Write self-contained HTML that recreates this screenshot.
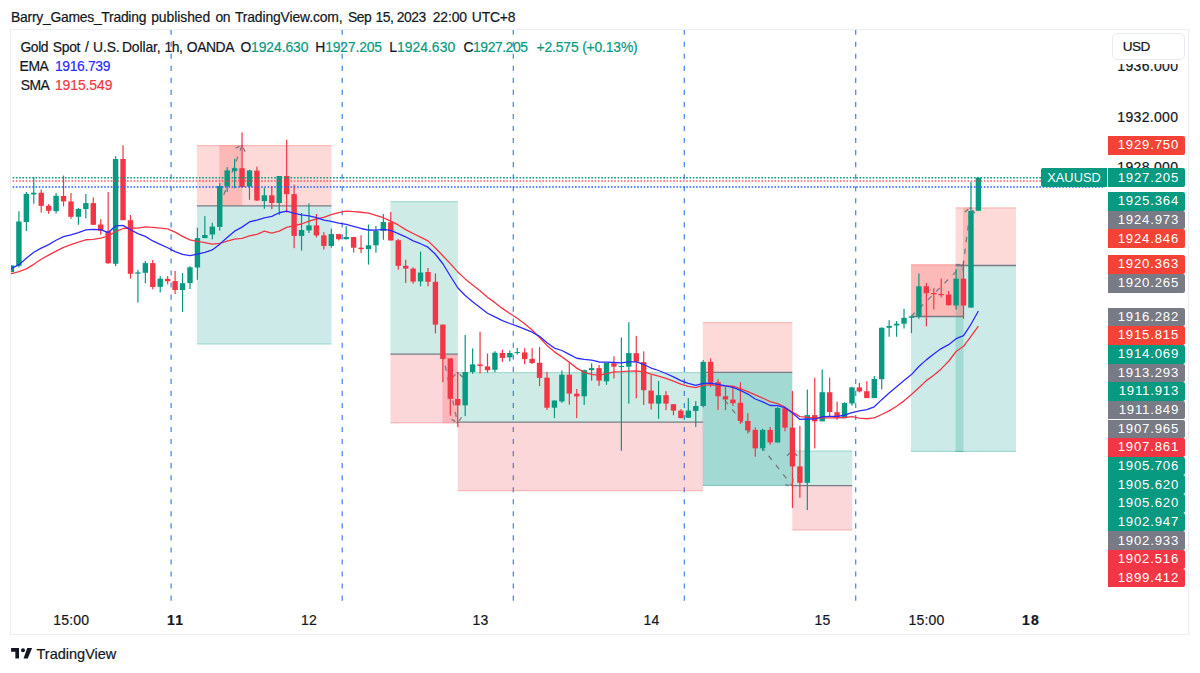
<!DOCTYPE html>
<html><head><meta charset="utf-8"><style>
*{margin:0;padding:0;box-sizing:border-box}
html,body{width:1200px;height:673px;overflow:hidden;background:#fff}
body{position:relative;font-family:"Liberation Sans",sans-serif;color:#131722;-webkit-text-stroke:0.2px currentColor}
.a{position:absolute;white-space:nowrap}
.frame{position:absolute;left:10px;top:29px;width:1179px;height:606px;border:1px solid #ECEEF3}
.lbl{-webkit-text-stroke:0;position:absolute;left:1107.9px;width:77.1px;height:18.65px;border-radius:0 2px 2px 0;color:#fff;font-size:13.2px;line-height:18.65px;padding-top:0.2px;text-align:right;padding-right:5.9px;letter-spacing:0.8px}
.ax{position:absolute;font-size:14px;line-height:14px;color:#131722;letter-spacing:0.33px}
.tm{position:absolute;top:613px;font-size:14px;line-height:14px;transform:translateX(-50%)}
</style></head><body>

<div class="a" style="left:11.05px;top:9.1px;font-size:13.9px;line-height:16px;letter-spacing:-0.258px;">Barry_Games_Trading</div>
<div class="a" style="left:151.20px;top:9.1px;font-size:13.9px;line-height:16px;letter-spacing:-0.050px;">published</div>
<div class="a" style="left:215.60px;top:9.1px;font-size:13.9px;line-height:16px;letter-spacing:-0.450px;">on</div>
<div class="a" style="left:234.90px;top:9.1px;font-size:13.9px;line-height:16px;letter-spacing:-0.127px;">TradingView.com,</div>
<div class="a" style="left:347.90px;top:9.1px;font-size:13.9px;line-height:16px;letter-spacing:-0.450px;">Sep</div>
<div class="a" style="left:375.55px;top:9.1px;font-size:13.9px;line-height:16px;letter-spacing:-0.450px;">15,</div>
<div class="a" style="left:396.70px;top:9.1px;font-size:13.9px;line-height:16px;letter-spacing:-0.414px;">2023</div>
<div class="a" style="left:432.65px;top:9.1px;font-size:13.9px;line-height:16px;letter-spacing:-0.100px;">22:00</div>
<div class="a" style="left:471.85px;top:9.1px;font-size:13.9px;line-height:16px;letter-spacing:-0.179px;">UTC+8</div>
<div class="frame"></div>
<svg class="a" style="left:0;top:0" width="1200" height="673" viewBox="0 0 1200 673"><defs><clipPath id="cp"><rect x="11" y="30" width="1094" height="571"/></clipPath></defs><g clip-path="url(#cp)"><line x1="171.1" y1="29.66" x2="171.1" y2="601" stroke="#4985E7" stroke-width="1.25" stroke-dasharray="5.1,6.94"/><line x1="342.2" y1="29.66" x2="342.2" y2="601" stroke="#4985E7" stroke-width="1.25" stroke-dasharray="5.1,6.94"/><line x1="513.3" y1="29.66" x2="513.3" y2="601" stroke="#4985E7" stroke-width="1.25" stroke-dasharray="5.1,6.94"/><line x1="684.3" y1="29.66" x2="684.3" y2="601" stroke="#4985E7" stroke-width="1.25" stroke-dasharray="5.1,6.94"/><line x1="855.7" y1="29.66" x2="855.7" y2="601" stroke="#4985E7" stroke-width="1.25" stroke-dasharray="5.1,6.94"/><rect x="196.9" y="145" width="134.6" height="60.9" fill="rgba(244,67,54,0.2)"/><rect x="196.9" y="205.9" width="134.6" height="138.6" fill="rgba(0,150,136,0.2)"/><rect x="390.4" y="201.1" width="67.5" height="153.1" fill="rgba(8,153,129,0.2)"/><rect x="390.4" y="354.2" width="67.5" height="69.1" fill="rgba(242,54,69,0.2)"/><rect x="457.7" y="372" width="245.3" height="50.2" fill="rgba(8,153,129,0.2)"/><rect x="457.7" y="422.2" width="245.3" height="69" fill="rgba(242,54,69,0.2)"/><rect x="702.8" y="322.1" width="89.5" height="50.2" fill="rgba(244,67,54,0.2)"/><rect x="702.8" y="372.3" width="89.5" height="113.7" fill="rgba(0,150,136,0.2)"/><rect x="792.3" y="450.5" width="59.9" height="35.2" fill="rgba(8,153,129,0.2)"/><rect x="792.3" y="485.7" width="59.9" height="44.8" fill="rgba(242,54,69,0.2)"/><rect x="911" y="264.3" width="52.5" height="52.2" fill="rgba(244,67,54,0.2)"/><rect x="911" y="316.5" width="52.5" height="135.5" fill="rgba(0,150,136,0.2)"/><rect x="955.5" y="207.4" width="60.5" height="58.1" fill="rgba(244,67,54,0.2)"/><rect x="955.5" y="265.5" width="60.5" height="186.5" fill="rgba(0,150,136,0.2)"/><rect x="219.3" y="145" width="22.9" height="60.9" fill="rgba(244,67,54,0.2)"/><rect x="442.4" y="354.2" width="15.5" height="69.1" fill="rgba(242,54,69,0.2)"/><rect x="702.8" y="372.3" width="89.5" height="113.7" fill="rgba(0,150,136,0.2)"/><rect x="911" y="264.3" width="52.5" height="52.2" fill="rgba(244,67,54,0.2)"/><rect x="963" y="207.4" width="7.5" height="58.1" fill="rgba(244,67,54,0.2)"/><rect x="196.9" y="145" width="134.6" height="1.2" fill="rgba(244,67,54,0.2)"/><rect x="196.9" y="343.3" width="134.6" height="1.2" fill="rgba(0,150,136,0.2)"/><rect x="390.4" y="201.1" width="67.5" height="1.2" fill="rgba(8,153,129,0.2)"/><rect x="390.4" y="422.1" width="67.5" height="1.2" fill="rgba(242,54,69,0.2)"/><rect x="457.7" y="372" width="245.3" height="1.2" fill="rgba(8,153,129,0.2)"/><rect x="457.7" y="490" width="245.3" height="1.2" fill="rgba(242,54,69,0.2)"/><rect x="702.8" y="322.1" width="89.5" height="1.2" fill="rgba(244,67,54,0.2)"/><rect x="702.8" y="484.8" width="89.5" height="1.2" fill="rgba(0,150,136,0.2)"/><rect x="792.3" y="450.5" width="59.9" height="1.2" fill="rgba(8,153,129,0.2)"/><rect x="792.3" y="529.3" width="59.9" height="1.2" fill="rgba(242,54,69,0.2)"/><rect x="911" y="264.3" width="52.5" height="1.2" fill="rgba(244,67,54,0.2)"/><rect x="911" y="450.8" width="52.5" height="1.2" fill="rgba(0,150,136,0.2)"/><rect x="955.5" y="207.4" width="60.5" height="1.2" fill="rgba(244,67,54,0.2)"/><rect x="955.5" y="450.8" width="60.5" height="1.2" fill="rgba(0,150,136,0.2)"/><line x1="196.9" y1="205.9" x2="331.5" y2="205.9" stroke="#787B86" stroke-width="1.3"/><line x1="390.4" y1="354.2" x2="457.9" y2="354.2" stroke="#787B86" stroke-width="1.3"/><line x1="457.7" y1="422.2" x2="703" y2="422.2" stroke="#787B86" stroke-width="1.3"/><line x1="702.8" y1="372.3" x2="792.3" y2="372.3" stroke="#787B86" stroke-width="1.3"/><line x1="792.3" y1="485.7" x2="852.2" y2="485.7" stroke="#787B86" stroke-width="1.3"/><line x1="911" y1="316.5" x2="963.5" y2="316.5" stroke="#787B86" stroke-width="1.3"/><line x1="955.5" y1="265.5" x2="1016" y2="265.5" stroke="#787B86" stroke-width="1.3"/><line x1="219.7" y1="205.9" x2="242.0" y2="145.4" stroke="#787B86" stroke-width="1.3" stroke-dasharray="5.2,6.6"/><line x1="242.0" y1="145.4" x2="235.55" y2="148.11" stroke="#787B86" stroke-width="1.3" stroke-dasharray="1.2,1.5,4.3"/><line x1="242.0" y1="145.4" x2="245.15" y2="151.65" stroke="#787B86" stroke-width="1.3" stroke-dasharray="1.2,1.5,4.3"/><line x1="442.7" y1="354.2" x2="457.6" y2="423.0" stroke="#787B86" stroke-width="1.3" stroke-dasharray="5.2,6.6"/><line x1="457.6" y1="423.0" x2="461.59" y2="417.25" stroke="#787B86" stroke-width="1.3" stroke-dasharray="1.2,1.5,4.3"/><line x1="457.6" y1="423.0" x2="451.59" y2="419.42" stroke="#787B86" stroke-width="1.3" stroke-dasharray="1.2,1.5,4.3"/><line x1="457.6" y1="372.4" x2="452.48" y2="377.18" stroke="#787B86" stroke-width="1.3" stroke-dasharray="1.2,1.5,4.3"/><line x1="457.6" y1="372.4" x2="462.72" y2="377.18" stroke="#787B86" stroke-width="1.3" stroke-dasharray="1.2,1.5,4.3"/><line x1="702.9" y1="372.3" x2="792.1" y2="485.6" stroke="#787B86" stroke-width="1.3" stroke-dasharray="5.2,6.6"/><line x1="792.1" y1="485.6" x2="793.17" y2="478.68" stroke="#787B86" stroke-width="1.3" stroke-dasharray="1.2,1.5,4.3"/><line x1="792.1" y1="485.6" x2="785.12" y2="485.01" stroke="#787B86" stroke-width="1.3" stroke-dasharray="1.2,1.5,4.3"/><line x1="792.1" y1="450.9" x2="786.98" y2="455.68" stroke="#787B86" stroke-width="1.3" stroke-dasharray="1.2,1.5,4.3"/><line x1="792.1" y1="450.9" x2="797.22" y2="455.68" stroke="#787B86" stroke-width="1.3" stroke-dasharray="1.2,1.5,4.3"/><line x1="911.1" y1="316.5" x2="963.1" y2="264.7" stroke="#787B86" stroke-width="1.3" stroke-dasharray="5.2,6.6"/><line x1="963.1" y1="264.7" x2="956.10" y2="264.44" stroke="#787B86" stroke-width="1.3" stroke-dasharray="1.2,1.5,4.3"/><line x1="963.1" y1="264.7" x2="963.33" y2="271.70" stroke="#787B86" stroke-width="1.3" stroke-dasharray="1.2,1.5,4.3"/><line x1="963.1" y1="265.5" x2="970.5" y2="207.8" stroke="#787B86" stroke-width="1.3" stroke-dasharray="5.2,6.6"/><line x1="970.5" y1="207.8" x2="964.82" y2="211.89" stroke="#787B86" stroke-width="1.3" stroke-dasharray="1.2,1.5,4.3"/><line x1="970.5" y1="207.8" x2="974.97" y2="213.19" stroke="#787B86" stroke-width="1.3" stroke-dasharray="1.2,1.5,4.3"/><rect x="10.86" y="265.4" width="1.2" height="6.9" fill="#089981"/><rect x="8.76" y="265.4" width="5.4" height="6.6" fill="#089981"/><rect x="18.3" y="211.3" width="1.2" height="56.2" fill="#089981"/><rect x="16.2" y="221.5" width="5.4" height="44.3" fill="#089981"/><rect x="25.74" y="192" width="1.2" height="39.1" fill="#089981"/><rect x="23.64" y="193.9" width="5.4" height="28.1" fill="#089981"/><rect x="33.18" y="177" width="1.2" height="26.8" fill="#089981"/><rect x="31.08" y="192.7" width="5.4" height="1.8" fill="#089981"/><rect x="40.62" y="189.5" width="1.2" height="23.2" fill="#F23645"/><rect x="38.52" y="192.7" width="5.4" height="13.2" fill="#F23645"/><rect x="48.05" y="204" width="1.2" height="9.8" fill="#F23645"/><rect x="45.95" y="205.8" width="5.4" height="5" fill="#F23645"/><rect x="55.49" y="193" width="1.2" height="20.4" fill="#089981"/><rect x="53.39" y="195.8" width="5.4" height="15.4" fill="#089981"/><rect x="62.93" y="175.6" width="1.2" height="30.7" fill="#F23645"/><rect x="60.83" y="196" width="5.4" height="5.4" fill="#F23645"/><rect x="70.37" y="193" width="1.2" height="25.8" fill="#F23645"/><rect x="68.27" y="201.4" width="5.4" height="15.4" fill="#F23645"/><rect x="77.81" y="208" width="1.2" height="16.8" fill="#089981"/><rect x="75.71" y="209" width="5.4" height="7.8" fill="#089981"/><rect x="85.24" y="194" width="1.2" height="24.4" fill="#089981"/><rect x="83.14" y="203.1" width="5.4" height="5.9" fill="#089981"/><rect x="92.68" y="197.4" width="1.2" height="27.6" fill="#F23645"/><rect x="90.58" y="203.1" width="5.4" height="21.7" fill="#F23645"/><rect x="100.12" y="219.2" width="1.2" height="15.6" fill="#F23645"/><rect x="98.02" y="224.5" width="5.4" height="6.3" fill="#F23645"/><rect x="107.56" y="191.9" width="1.2" height="71.9" fill="#F23645"/><rect x="105.46" y="231.2" width="5.4" height="32.1" fill="#F23645"/><rect x="115" y="156.2" width="1.2" height="110" fill="#089981"/><rect x="112.9" y="159" width="5.4" height="104.8" fill="#089981"/><rect x="122.43" y="145.3" width="1.2" height="74.9" fill="#F23645"/><rect x="120.33" y="159" width="5.4" height="61.2" fill="#F23645"/><rect x="129.87" y="215" width="1.2" height="63.6" fill="#F23645"/><rect x="127.77" y="220.2" width="5.4" height="53.6" fill="#F23645"/><rect x="137.31" y="269.8" width="1.2" height="32.7" fill="#089981"/><rect x="135.21" y="272.4" width="5.4" height="1.3" fill="#089981"/><rect x="144.75" y="261" width="1.2" height="22.3" fill="#089981"/><rect x="142.65" y="263.1" width="5.4" height="9.7" fill="#089981"/><rect x="152.19" y="260" width="1.2" height="29.4" fill="#F23645"/><rect x="150.09" y="263.1" width="5.4" height="23.9" fill="#F23645"/><rect x="159.62" y="276.1" width="1.2" height="16.4" fill="#089981"/><rect x="157.52" y="278.6" width="5.4" height="8.2" fill="#089981"/><rect x="167.06" y="276" width="1.2" height="8.3" fill="#F23645"/><rect x="164.96" y="278.9" width="5.4" height="2.3" fill="#F23645"/><rect x="174.5" y="271" width="1.2" height="23" fill="#F23645"/><rect x="172.4" y="281.1" width="5.4" height="8.9" fill="#F23645"/><rect x="181.94" y="273.1" width="1.2" height="38.9" fill="#089981"/><rect x="179.84" y="283.2" width="5.4" height="6.8" fill="#089981"/><rect x="189.38" y="266.2" width="1.2" height="22.9" fill="#089981"/><rect x="187.28" y="267.3" width="5.4" height="15.7" fill="#089981"/><rect x="196.81" y="227.8" width="1.2" height="52" fill="#089981"/><rect x="194.71" y="238.1" width="5.4" height="29.4" fill="#089981"/><rect x="204.25" y="216.1" width="1.2" height="22" fill="#089981"/><rect x="202.15" y="235" width="5.4" height="3.1" fill="#089981"/><rect x="211.69" y="222.8" width="1.2" height="16.5" fill="#089981"/><rect x="209.59" y="226.6" width="5.4" height="7.9" fill="#089981"/><rect x="219.13" y="183" width="1.2" height="47.6" fill="#089981"/><rect x="217.03" y="186" width="5.4" height="40.9" fill="#089981"/><rect x="226.57" y="167.1" width="1.2" height="24.9" fill="#089981"/><rect x="224.47" y="170.4" width="5.4" height="16" fill="#089981"/><rect x="234" y="158.7" width="1.2" height="29.5" fill="#089981"/><rect x="231.9" y="168.2" width="5.4" height="2.9" fill="#089981"/><rect x="241.44" y="132.4" width="1.2" height="55.6" fill="#F23645"/><rect x="239.34" y="168.2" width="5.4" height="18.8" fill="#F23645"/><rect x="248.88" y="169.7" width="1.2" height="30.1" fill="#089981"/><rect x="246.78" y="170.4" width="5.4" height="16.2" fill="#089981"/><rect x="256.32" y="166.7" width="1.2" height="34.2" fill="#F23645"/><rect x="254.22" y="170.6" width="5.4" height="29.9" fill="#F23645"/><rect x="263.76" y="187.6" width="1.2" height="21.2" fill="#089981"/><rect x="261.66" y="195.3" width="5.4" height="5.8" fill="#089981"/><rect x="271.19" y="186" width="1.2" height="23.2" fill="#F23645"/><rect x="269.09" y="195.3" width="5.4" height="7.7" fill="#F23645"/><rect x="278.63" y="176" width="1.2" height="39" fill="#089981"/><rect x="276.53" y="176" width="5.4" height="27" fill="#089981"/><rect x="286.07" y="139.7" width="1.2" height="73" fill="#F23645"/><rect x="283.97" y="176" width="5.4" height="18.1" fill="#F23645"/><rect x="293.51" y="184.5" width="1.2" height="63.7" fill="#F23645"/><rect x="291.41" y="194.1" width="5.4" height="41.8" fill="#F23645"/><rect x="300.95" y="213" width="1.2" height="37.7" fill="#089981"/><rect x="298.85" y="230" width="5.4" height="5.9" fill="#089981"/><rect x="308.38" y="203.4" width="1.2" height="29.6" fill="#089981"/><rect x="306.28" y="225.4" width="5.4" height="5" fill="#089981"/><rect x="315.82" y="214" width="1.2" height="23.4" fill="#F23645"/><rect x="313.72" y="225.4" width="5.4" height="10" fill="#F23645"/><rect x="323.26" y="232.1" width="1.2" height="17.4" fill="#F23645"/><rect x="321.16" y="235.4" width="5.4" height="10.5" fill="#F23645"/><rect x="330.7" y="228.8" width="1.2" height="18.9" fill="#089981"/><rect x="328.6" y="234.1" width="5.4" height="11.8" fill="#089981"/><rect x="338.14" y="234.1" width="1.2" height="6.4" fill="#F23645"/><rect x="336.04" y="234.1" width="5.4" height="5.1" fill="#F23645"/><rect x="345.57" y="226.1" width="1.2" height="13.4" fill="#089981"/><rect x="343.47" y="237" width="5.4" height="2.2" fill="#089981"/><rect x="353.01" y="237" width="1.2" height="15.5" fill="#F23645"/><rect x="350.91" y="237" width="5.4" height="10.7" fill="#F23645"/><rect x="360.45" y="235.3" width="1.2" height="17.7" fill="#F23645"/><rect x="358.35" y="247.7" width="5.4" height="1.4" fill="#F23645"/><rect x="367.89" y="224.5" width="1.2" height="40.1" fill="#089981"/><rect x="365.79" y="245.3" width="5.4" height="3.8" fill="#089981"/><rect x="375.33" y="226" width="1.2" height="26.7" fill="#089981"/><rect x="373.23" y="230.9" width="5.4" height="14.4" fill="#089981"/><rect x="382.76" y="214.1" width="1.2" height="25.7" fill="#089981"/><rect x="380.66" y="222" width="5.4" height="8.9" fill="#089981"/><rect x="390.2" y="212" width="1.2" height="28.5" fill="#F23645"/><rect x="388.1" y="222.2" width="5.4" height="18.3" fill="#F23645"/><rect x="397.64" y="239" width="1.2" height="30.5" fill="#F23645"/><rect x="395.54" y="240.2" width="5.4" height="25.6" fill="#F23645"/><rect x="405.08" y="259.8" width="1.2" height="23.1" fill="#F23645"/><rect x="402.98" y="265.8" width="5.4" height="2.8" fill="#F23645"/><rect x="412.52" y="267.4" width="1.2" height="16.4" fill="#F23645"/><rect x="410.42" y="268.6" width="5.4" height="13" fill="#F23645"/><rect x="419.95" y="251.6" width="1.2" height="34.7" fill="#089981"/><rect x="417.85" y="272.5" width="5.4" height="8.9" fill="#089981"/><rect x="427.39" y="268" width="1.2" height="18.3" fill="#F23645"/><rect x="425.29" y="272" width="5.4" height="9.8" fill="#F23645"/><rect x="434.83" y="273.4" width="1.2" height="59.9" fill="#F23645"/><rect x="432.73" y="281.8" width="5.4" height="42.8" fill="#F23645"/><rect x="442.27" y="324.6" width="1.2" height="57.5" fill="#F23645"/><rect x="440.17" y="324.6" width="5.4" height="34.3" fill="#F23645"/><rect x="449.71" y="358.4" width="1.2" height="57.2" fill="#F23645"/><rect x="447.61" y="358.4" width="5.4" height="40.4" fill="#F23645"/><rect x="457.14" y="372" width="1.2" height="55.1" fill="#F23645"/><rect x="455.04" y="399" width="5.4" height="6.3" fill="#F23645"/><rect x="464.58" y="335" width="1.2" height="81.1" fill="#089981"/><rect x="462.48" y="372" width="5.4" height="33.3" fill="#089981"/><rect x="472.02" y="348.4" width="1.2" height="25.5" fill="#089981"/><rect x="469.92" y="364.4" width="5.4" height="7.6" fill="#089981"/><rect x="479.46" y="331.7" width="1.2" height="41.6" fill="#F23645"/><rect x="477.36" y="364.4" width="5.4" height="1.6" fill="#F23645"/><rect x="486.9" y="353.4" width="1.2" height="19.3" fill="#F23645"/><rect x="484.8" y="366.4" width="5.4" height="3.8" fill="#F23645"/><rect x="494.33" y="351.2" width="1.2" height="21.1" fill="#089981"/><rect x="492.23" y="352.7" width="5.4" height="17.1" fill="#089981"/><rect x="501.77" y="349.7" width="1.2" height="12.2" fill="#F23645"/><rect x="499.67" y="353" width="5.4" height="4.9" fill="#F23645"/><rect x="509.21" y="350.5" width="1.2" height="10.8" fill="#089981"/><rect x="507.11" y="353" width="5.4" height="4.4" fill="#089981"/><rect x="516.65" y="347.9" width="1.2" height="6.6" fill="#089981"/><rect x="514.55" y="352" width="5.4" height="1" fill="#089981"/><rect x="524.09" y="348.2" width="1.2" height="16.1" fill="#F23645"/><rect x="521.99" y="352.4" width="5.4" height="6.8" fill="#F23645"/><rect x="531.52" y="348.2" width="1.2" height="15.6" fill="#F23645"/><rect x="529.42" y="358.9" width="5.4" height="4.2" fill="#F23645"/><rect x="538.96" y="347" width="1.2" height="39.1" fill="#F23645"/><rect x="536.86" y="362.8" width="5.4" height="15.1" fill="#F23645"/><rect x="546.4" y="372" width="1.2" height="37.9" fill="#F23645"/><rect x="544.3" y="377.7" width="5.4" height="30" fill="#F23645"/><rect x="553.84" y="400.5" width="1.2" height="17.6" fill="#089981"/><rect x="551.74" y="400.5" width="5.4" height="7.2" fill="#089981"/><rect x="561.28" y="370.5" width="1.2" height="32.4" fill="#089981"/><rect x="559.18" y="374.7" width="5.4" height="26.7" fill="#089981"/><rect x="568.71" y="362.3" width="1.2" height="42.4" fill="#F23645"/><rect x="566.61" y="374.7" width="5.4" height="18.9" fill="#F23645"/><rect x="576.15" y="389" width="1.2" height="29.1" fill="#F23645"/><rect x="574.05" y="393.7" width="5.4" height="2.7" fill="#F23645"/><rect x="583.59" y="369.6" width="1.2" height="35.4" fill="#089981"/><rect x="581.49" y="370.2" width="5.4" height="26.1" fill="#089981"/><rect x="591.03" y="363.3" width="1.2" height="17.3" fill="#089981"/><rect x="588.93" y="368.1" width="5.4" height="2.1" fill="#089981"/><rect x="598.47" y="365" width="1.2" height="20.8" fill="#F23645"/><rect x="596.37" y="368.1" width="5.4" height="12.5" fill="#F23645"/><rect x="605.9" y="362.9" width="1.2" height="21.9" fill="#089981"/><rect x="603.8" y="362.9" width="5.4" height="18.4" fill="#089981"/><rect x="613.34" y="356.3" width="1.2" height="22.2" fill="#F23645"/><rect x="611.24" y="363.3" width="5.4" height="3.4" fill="#F23645"/><rect x="620.78" y="337.5" width="1.2" height="113.3" fill="#089981"/><rect x="618.68" y="366" width="5.4" height="1.1" fill="#089981"/><rect x="628.22" y="322.2" width="1.2" height="81.4" fill="#089981"/><rect x="626.12" y="353.1" width="5.4" height="13.6" fill="#089981"/><rect x="635.66" y="335.9" width="1.2" height="62.4" fill="#F23645"/><rect x="633.56" y="353.2" width="5.4" height="8.5" fill="#F23645"/><rect x="643.09" y="351.4" width="1.2" height="53.5" fill="#F23645"/><rect x="640.99" y="362.1" width="5.4" height="28.1" fill="#F23645"/><rect x="650.53" y="375.1" width="1.2" height="34.4" fill="#F23645"/><rect x="648.43" y="390.6" width="5.4" height="13" fill="#F23645"/><rect x="657.97" y="381" width="1.2" height="37.8" fill="#089981"/><rect x="655.87" y="395.2" width="5.4" height="8.4" fill="#089981"/><rect x="665.41" y="391.1" width="1.2" height="19.1" fill="#F23645"/><rect x="663.31" y="395.2" width="5.4" height="8.4" fill="#F23645"/><rect x="672.85" y="404.2" width="1.2" height="11.1" fill="#F23645"/><rect x="670.75" y="404.2" width="5.4" height="6.4" fill="#F23645"/><rect x="680.28" y="409.2" width="1.2" height="9.1" fill="#F23645"/><rect x="678.18" y="410.6" width="5.4" height="7.5" fill="#F23645"/><rect x="687.72" y="398.1" width="1.2" height="19.9" fill="#089981"/><rect x="685.62" y="410.6" width="5.4" height="7.1" fill="#089981"/><rect x="695.16" y="401.1" width="1.2" height="25.9" fill="#089981"/><rect x="693.06" y="406" width="5.4" height="4.9" fill="#089981"/><rect x="702.6" y="360.1" width="1.2" height="47.3" fill="#089981"/><rect x="700.5" y="361.9" width="5.4" height="44.1" fill="#089981"/><rect x="710.04" y="358.3" width="1.2" height="28.6" fill="#F23645"/><rect x="707.94" y="361.9" width="5.4" height="20.9" fill="#F23645"/><rect x="717.47" y="379.2" width="1.2" height="30.8" fill="#F23645"/><rect x="715.37" y="382.1" width="5.4" height="14.2" fill="#F23645"/><rect x="724.91" y="387.2" width="1.2" height="23" fill="#F23645"/><rect x="722.81" y="396.2" width="5.4" height="3.3" fill="#F23645"/><rect x="732.35" y="386.4" width="1.2" height="19.6" fill="#F23645"/><rect x="730.25" y="399.6" width="5.4" height="3.6" fill="#F23645"/><rect x="739.79" y="382.3" width="1.2" height="41.5" fill="#F23645"/><rect x="737.69" y="402.8" width="5.4" height="18.2" fill="#F23645"/><rect x="747.23" y="413.1" width="1.2" height="20.4" fill="#F23645"/><rect x="745.13" y="421" width="5.4" height="9.4" fill="#F23645"/><rect x="754.66" y="427.4" width="1.2" height="29.2" fill="#F23645"/><rect x="752.56" y="429.9" width="5.4" height="18.4" fill="#F23645"/><rect x="762.1" y="428.7" width="1.2" height="22.3" fill="#089981"/><rect x="760" y="429.9" width="5.4" height="18.4" fill="#089981"/><rect x="769.54" y="426.9" width="1.2" height="17.8" fill="#F23645"/><rect x="767.44" y="429.9" width="5.4" height="12.5" fill="#F23645"/><rect x="776.98" y="407.1" width="1.2" height="35.4" fill="#089981"/><rect x="774.88" y="408" width="5.4" height="34.5" fill="#089981"/><rect x="784.42" y="408.2" width="1.2" height="23.1" fill="#F23645"/><rect x="782.32" y="408.2" width="5.4" height="19.4" fill="#F23645"/><rect x="791.85" y="391" width="1.2" height="117" fill="#F23645"/><rect x="789.75" y="427.6" width="5.4" height="38.8" fill="#F23645"/><rect x="799.29" y="425.9" width="1.2" height="71.8" fill="#F23645"/><rect x="797.19" y="466.4" width="5.4" height="16.4" fill="#F23645"/><rect x="806.73" y="389.6" width="1.2" height="120.4" fill="#089981"/><rect x="804.63" y="415.1" width="5.4" height="67.7" fill="#089981"/><rect x="814.17" y="377.8" width="1.2" height="70.6" fill="#F23645"/><rect x="812.07" y="415.1" width="5.4" height="6.2" fill="#F23645"/><rect x="821.61" y="369.5" width="1.2" height="51.8" fill="#089981"/><rect x="819.51" y="392.2" width="5.4" height="29.1" fill="#089981"/><rect x="829.04" y="377.7" width="1.2" height="38.8" fill="#F23645"/><rect x="826.94" y="392.3" width="5.4" height="19.7" fill="#F23645"/><rect x="836.48" y="401.7" width="1.2" height="18.2" fill="#F23645"/><rect x="834.38" y="412.2" width="5.4" height="5.6" fill="#F23645"/><rect x="843.92" y="402.1" width="1.2" height="16.1" fill="#089981"/><rect x="841.82" y="403.1" width="5.4" height="15.1" fill="#089981"/><rect x="851.36" y="386.8" width="1.2" height="18.9" fill="#089981"/><rect x="849.26" y="387.4" width="5.4" height="16.1" fill="#089981"/><rect x="858.8" y="383" width="1.2" height="9.4" fill="#F23645"/><rect x="856.7" y="387.4" width="5.4" height="4" fill="#F23645"/><rect x="866.23" y="381.2" width="1.2" height="16.9" fill="#F23645"/><rect x="864.13" y="391.2" width="5.4" height="6.9" fill="#F23645"/><rect x="873.67" y="376.1" width="1.2" height="22" fill="#089981"/><rect x="871.57" y="379" width="5.4" height="19.1" fill="#089981"/><rect x="881.11" y="327.3" width="1.2" height="62.1" fill="#089981"/><rect x="879.01" y="327.8" width="5.4" height="51.4" fill="#089981"/><rect x="888.55" y="320.1" width="1.2" height="16.6" fill="#089981"/><rect x="886.45" y="326" width="5.4" height="1.8" fill="#089981"/><rect x="895.99" y="321" width="1.2" height="15.7" fill="#089981"/><rect x="893.89" y="323.7" width="5.4" height="1.8" fill="#089981"/><rect x="903.42" y="308.9" width="1.2" height="19.6" fill="#089981"/><rect x="901.32" y="317.8" width="5.4" height="5.9" fill="#089981"/><rect x="910.86" y="316.3" width="1.2" height="16.8" fill="#089981"/><rect x="908.76" y="316.3" width="5.4" height="1.5" fill="#089981"/><rect x="918.3" y="273.5" width="1.2" height="45.3" fill="#089981"/><rect x="916.2" y="286.3" width="5.4" height="30.3" fill="#089981"/><rect x="925.74" y="283" width="1.2" height="43.4" fill="#F23645"/><rect x="923.64" y="286.3" width="5.4" height="6.9" fill="#F23645"/><rect x="933.18" y="288.3" width="1.2" height="21.2" fill="#F23645"/><rect x="931.08" y="293" width="5.4" height="1.2" fill="#F23645"/><rect x="940.61" y="278.5" width="1.2" height="18.8" fill="#F23645"/><rect x="938.51" y="294" width="5.4" height="1.2" fill="#F23645"/><rect x="948.05" y="291" width="1.2" height="14.3" fill="#F23645"/><rect x="945.95" y="294.6" width="5.4" height="10.7" fill="#F23645"/><rect x="955.49" y="269.2" width="1.2" height="40.4" fill="#089981"/><rect x="953.39" y="278.7" width="5.4" height="26.8" fill="#089981"/><rect x="962.93" y="261.5" width="1.2" height="57.3" fill="#F23645"/><rect x="960.83" y="278.7" width="5.4" height="26.8" fill="#F23645"/><rect x="970.37" y="181.9" width="1.2" height="125.7" fill="#089981"/><rect x="968.27" y="211" width="5.4" height="96.6" fill="#089981"/><rect x="977.8" y="177.6" width="1.2" height="33.2" fill="#089981"/><rect x="975.7" y="177.6" width="5.4" height="33.2" fill="#089981"/><polyline points="10.5,273.7 11.46,273.56 18.9,271.7 26.34,268.84 33.78,264.33 41.22,259.21 48.65,255.09 56.09,251.13 63.53,247.35 70.97,244.58 78.41,242.06 85.84,239.76 93.28,239.34 100.72,238.11 108.16,236.19 115.6,231.54 123.03,228.52 130.47,227.98 137.91,228.21 145.35,226.83 152.79,227.35 160.22,228.06 167.66,228.81 175.1,232.08 182.54,236.33 189.98,239.88 197.41,241.41 204.85,242.57 212.29,244.03 219.73,243.3 227.17,241.09 234.6,239.15 242.04,238.38 249.48,235.79 256.92,234.35 264.36,231.11 271.79,233.2 279.23,231.1 286.67,227.3 294.11,225.57 301.55,223.99 308.98,221.06 316.42,219 323.86,217.32 331.3,214.66 338.74,212.56 346.17,211.12 353.61,211.58 361.05,212.25 368.49,213.14 375.93,215.28 383.36,217.73 390.8,221.18 398.24,224.93 405.68,229.6 413.12,233.47 420.55,237.14 427.99,240.9 435.43,247.97 442.87,255.82 450.31,263.58 457.74,271.92 465.18,278.9 472.62,285.05 480.06,290.77 487.5,297.25 494.93,302.65 502.37,308.41 509.81,313.42 517.25,318.32 524.69,323.75 532.12,330.04 539.56,337.47 547,345.43 554.44,351.84 561.88,356.9 569.31,362.23 576.75,368.13 584.19,372.34 591.63,374.41 599.07,375.44 606.5,373.73 613.94,371.9 621.38,371.61 628.82,371.07 636.26,370.87 643.69,371.82 651.13,374.24 658.57,376.02 666.01,378.43 673.45,381.22 680.88,384.02 688.32,386.29 695.76,387.62 703.2,385.44 710.64,384.6 718.07,385.63 725.51,385.91 732.95,386.23 740.39,388.65 747.83,391.62 755.26,394.84 762.7,398.03 770.14,401.64 777.58,403.64 785.02,407.19 792.45,412.17 799.89,416.58 807.33,417.13 814.77,418.37 822.21,417.83 829.64,417.9 837.08,417.88 844.52,417.52 851.96,416.64 859.4,418.04 866.83,418.77 874.27,417.95 881.71,414.53 889.15,410.86 896.59,406.22 904.02,400.86 911.46,394.58 918.9,387.74 926.34,380.63 933.78,375.21 941.21,368.91 948.65,361.24 956.09,351.52 963.53,346.3 970.97,336.29 978.4,326.07" fill="none" stroke="#F23645" stroke-width="1.3" stroke-linejoin="round"/><polyline points="10.66,269 18.9,264.68 26.34,258.25 33.78,252.29 41.22,248.07 48.65,244.68 56.09,240.24 63.53,236.71 70.97,234.9 78.41,232.54 85.84,229.87 93.28,229.41 100.72,229.53 108.16,232.6 115.6,225.91 123.03,225.39 130.47,229.79 137.91,233.67 145.35,236.34 152.79,240.95 160.22,244.37 167.66,247.72 175.1,251.56 182.54,254.44 189.98,255.61 197.41,254.02 204.85,252.29 212.29,249.95 219.73,244.14 227.17,237.43 234.6,231.14 242.04,227.13 249.48,221.97 256.92,220.02 264.36,217.77 271.79,216.43 279.23,212.75 286.67,211.06 294.11,213.32 301.55,214.83 308.98,215.79 316.42,217.58 323.86,220.15 331.3,221.42 338.74,223.04 346.17,224.3 353.61,226.43 361.05,228.49 368.49,230.02 375.93,230.1 383.36,229.36 390.8,230.38 398.24,233.6 405.68,236.78 413.12,240.85 420.55,243.73 427.99,247.19 435.43,254.23 442.87,263.74 450.31,276.02 457.74,287.77 465.18,295.43 472.62,301.7 480.06,307.55 487.5,313.24 494.93,316.83 502.37,320.56 509.81,323.51 517.25,326.1 524.69,329.11 532.12,332.2 539.56,336.36 547,342.84 554.44,348.08 561.88,350.5 569.31,354.42 576.75,358.24 584.19,359.32 591.63,360.12 599.07,361.98 606.5,362.07 613.94,362.49 621.38,362.81 628.82,361.92 636.26,361.9 643.69,364.48 651.13,368.03 658.57,370.5 666.01,373.51 673.45,376.88 680.88,380.63 688.32,383.36 695.76,385.41 703.2,383.28 710.64,383.23 718.07,384.42 725.51,385.79 732.95,387.37 740.39,390.43 747.83,394.06 755.26,399 762.7,401.8 770.14,405.5 777.58,405.72 785.02,407.71 792.45,413.05 799.89,419.39 807.33,419 814.77,419.21 822.21,416.75 829.64,416.32 837.08,416.45 844.52,415.24 851.96,412.71 859.4,410.77 866.83,409.62 874.27,406.84 881.71,399.65 889.15,392.96 896.59,386.66 904.02,380.4 911.46,374.57 918.9,366.55 926.34,359.88 933.78,353.91 941.21,348.57 948.65,344.64 956.09,338.64 963.53,335.63 970.97,324.3 978.4,310.96" fill="none" stroke="#2B2BFF" stroke-width="1.3" stroke-linejoin="round"/><line x1="12.6" y1="177.65" x2="1041" y2="177.65" stroke="#089981" stroke-width="1.5" stroke-dasharray="1.6,1.67"/><line x1="12.6" y1="181" x2="1041" y2="181" stroke="#F23645" stroke-opacity="0.6" stroke-width="1.8" stroke-dasharray="1.6,1.67"/><line x1="12.6" y1="187" x2="1105" y2="187" stroke="#2962FF" stroke-opacity="0.75" stroke-width="1.9" stroke-dasharray="1.6,1.67"/></g></svg>
<div class="a" style="left:20.50px;top:38.7px;font-size:13.9px;line-height:16px;letter-spacing:-0.450px;">Gold</div>
<div class="a" style="left:52.80px;top:38.7px;font-size:13.9px;line-height:16px;letter-spacing:-0.307px;">Spot</div>
<div class="a" style="left:85.00px;top:38.7px;font-size:13.9px;line-height:16px;letter-spacing:0.000px;">/</div>
<div class="a" style="left:92.95px;top:38.7px;font-size:13.9px;line-height:16px;letter-spacing:-0.085px;">U.S.</div>
<div class="a" style="left:121.95px;top:38.7px;font-size:13.9px;line-height:16px;letter-spacing:-0.101px;">Dollar,</div>
<div class="a" style="left:164.45px;top:38.7px;font-size:13.9px;line-height:16px;letter-spacing:-0.450px;">1h,</div>
<div class="a" style="left:186.80px;top:38.7px;font-size:13.9px;line-height:16px;letter-spacing:-0.450px;">OANDA</div>
<div class="a" style="left:240.40px;top:38.7px;font-size:13.9px;line-height:16px;letter-spacing:-0.096px;">O<span style="color:#089981">1924.630</span></div>
<div class="a" style="left:315.35px;top:38.7px;font-size:13.9px;line-height:16px;letter-spacing:-0.168px;">H<span style="color:#089981">1927.205</span></div>
<div class="a" style="left:389.15px;top:38.7px;font-size:13.9px;line-height:16px;letter-spacing:0.039px;">L<span style="color:#089981">1924.630</span></div>
<div class="a" style="left:463.50px;top:38.7px;font-size:13.9px;line-height:16px;letter-spacing:-0.450px;">C<span style="color:#089981">1927.205</span></div>
<div class="a" style="left:536.60px;top:38.7px;font-size:13.9px;line-height:16px;letter-spacing:-0.167px;color:#089981">+2.575 (+0.13%)</div>
<div class="a" style="left:19.62px;top:57.9px;font-size:13.9px;line-height:16px;letter-spacing:-0.450px;">EMA</div>
<div class="a" style="left:54.95px;top:57.9px;font-size:13.9px;line-height:16px;letter-spacing:-0.359px;color:#2B2BFF">1916.739</div>
<div class="a" style="left:20.67px;top:76.9px;font-size:13.9px;line-height:16px;letter-spacing:-0.450px;">SMA</div>
<div class="a" style="left:54.95px;top:76.9px;font-size:13.9px;line-height:16px;letter-spacing:-0.074px;color:#F23645">1915.549</div>
<div class="ax" style="left:1117.3px;top:59.3px">1936.000</div>
<div class="ax" style="left:1117.3px;top:109.8px">1932.000</div>
<div class="ax" style="left:1117.3px;top:160.3px">1928.000</div>
<div class="a" style="left:1106px;top:30px;width:81px;height:33.9px;background:#fff"></div>
<div class="a" style="left:1112.3px;top:33.3px;width:72.4px;height:26.8px;border:1px solid #E8EBF0;border-radius:5px;background:#fff;font-size:13.6px;line-height:25px;padding-top:0.2px;padding-left:9.4px;letter-spacing:-0.55px">USD</div>
<div class="a" style="left:1041.2px;top:168.4px;width:65.7px;height:18.65px;background:#089981;border-radius:2px 0 0 2px;color:#fff;-webkit-text-stroke:0;font-size:12.8px;line-height:18.65px;padding-top:0.6px;text-align:center;letter-spacing:0.05px">XAUUSD</div>
<div class="lbl" style="top:136.0px;background:#F44336;">1929.750</div>
<div class="lbl" style="top:168.4px;background:#089981;">1927.205</div>
<div class="lbl" style="top:192.1px;background:#089981;">1925.364</div>
<div class="lbl" style="top:210.75px;background:#787B86;">1924.973</div>
<div class="lbl" style="top:229.39999999999998px;background:#F44336;">1924.846</div>
<div class="lbl" style="top:255.3px;background:#F44336;">1920.363</div>
<div class="lbl" style="top:273.95px;background:#787B86;">1920.265</div>
<div class="lbl" style="top:307.6px;background:#787B86;">1916.282</div>
<div class="lbl" style="top:326.25px;background:#F44336;">1915.815</div>
<div class="lbl" style="top:344.90000000000003px;background:#089981;">1914.069</div>
<div class="lbl" style="top:363.55px;background:#787B86;">1913.293</div>
<div class="lbl" style="top:382.20000000000005px;background:#089981;">1911.913</div>
<div class="lbl" style="top:400.85px;background:#787B86;">1911.849</div>
<div class="lbl" style="top:419.5px;background:#787B86;">1907.965</div>
<div class="lbl" style="top:438.15px;background:#F23645;">1907.861</div>
<div class="lbl" style="top:456.8px;background:#089981;">1905.706</div>
<div class="lbl" style="top:475.45000000000005px;background:#089981;">1905.620</div>
<div class="lbl" style="top:494.1px;background:#089981;">1905.620</div>
<div class="lbl" style="top:512.75px;background:#089981;">1902.947</div>
<div class="lbl" style="top:531.4px;background:#787B86;">1902.933</div>
<div class="lbl" style="top:550.05px;background:#F23645;">1902.516</div>
<div class="lbl" style="top:568.7px;background:#F23645;">1899.412</div>
<div class="tm" style="left:71.3px;letter-spacing:0.2px;">15:00</div>
<div class="tm" style="left:175.6px;font-weight:bold;letter-spacing:1.2px;">11</div>
<div class="tm" style="left:309px;letter-spacing:0.2px;">12</div>
<div class="tm" style="left:480.5px;letter-spacing:0.2px;">13</div>
<div class="tm" style="left:651.5px;letter-spacing:0.2px;">14</div>
<div class="tm" style="left:822.5px;letter-spacing:0.2px;">15</div>
<div class="tm" style="left:926.5px;letter-spacing:0.2px;">15:00</div>
<div class="tm" style="left:1031.1px;font-weight:bold;letter-spacing:1.2px;">18</div>
<svg class="a" style="left:0;top:640px" width="40" height="25" viewBox="0 640 40 25">
<path d="M11.1 648 H19 V658.6 H15.35 V651.75 H11.1 Z" fill="#131722"/>
<circle cx="23" cy="650.3" r="2" fill="#131722"/>
<path d="M27.25 648 H32.1 L27.8 658.6 H23.5 Z" fill="#131722"/>
</svg>
<div class="a" style="left:36.5px;top:645px;font-size:14.5px;line-height:18px;color:#131722">TradingView</div>
</body></html>
